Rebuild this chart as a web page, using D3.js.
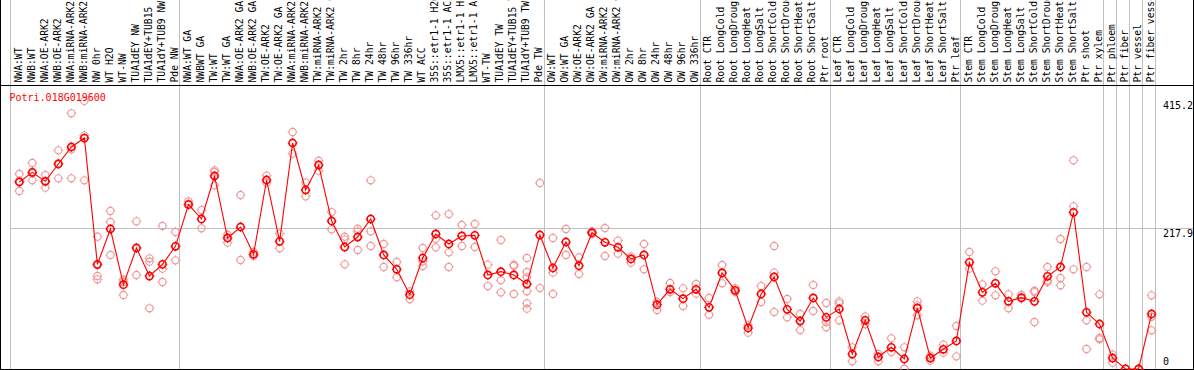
<!DOCTYPE html>
<html>
<head>
<meta charset="utf-8">
<script src="https://cdn.jsdelivr.net/npm/d3@7"></script>
<style>
  body { margin: 0; background: #fff; }
  svg { display: block; }
  text { font-family: "DejaVu Sans Mono", monospace; }
</style>
</head>
<body>
<div id="chart"></div>
<script>
// Gene shown
const title = "Potri.018G019600";

// Sample names (one column each)
const samples = [
  "NWA:WT", "NWB:WT", "NWA:OE-ARK2", "NWB:OE-ARK2", "NWA:miRNA-ARK2", "NWB:miRNA-ARK2",
  "NW 0hr", "WT H2O", "WT-NW", "TUA1dEY NW", "TUA1dEY+TUB15 NW", "TUA1dY+TUB9 NW", "Pde NW",
  "NWA:WT GA", "NWBWT GA", "TW:WT", "TW:WT GA", "NWA:OE-ARK2 GA", "NWB:OE-ARK2 GA",
  "TW:OE-ARK2", "TW:OE-ARK2 GA", "NWA:miRNA-ARK2 GA", "NWB:miRNA-ARK2 GA", "TW:miRNA-ARK2",
  "TW:miRNA-ARK2 GA", "TW 2hr", "TW 8hr", "TW 24hr", "TW 48hr", "TW 96hr", "TW 336hr",
  "WT ACC", "35S::etr1-1 H2O", "35S::etr1-1 ACC", "LMX5::etr1-1 H2O", "LMX5::etr1-1 ACC",
  "WT-TW", "TUA1dEY TW", "TUA1dEY+TUB15 TW", "TUA1dY+TUB9 TW", "Pde TW",
  "OW:WT", "OW:WT GA", "OW:OE-ARK2", "OW:OE-ARK2 GA", "OW:miRNA-ARK2", "OW:miRNA-ARK2 GA",
  "OW 2hr", "OW 8hr", "OW 24hr", "OW 48hr", "OW 96hr", "OW 336hr",
  "Root CTR", "Root LongCold", "Root LongDrought", "Root LongHeat", "Root LongSalt",
  "Root ShortCold", "Root ShortDrought", "Root ShortHeat", "Root ShortSalt", "Ptr root",
  "Leaf CTR", "Leaf LongCold", "Leaf LongDrought", "Leaf LongHeat", "Leaf LongSalt",
  "Leaf ShortCold", "Leaf ShortDrought", "Leaf ShortHeat", "Leaf ShortSalt", "Ptr leaf",
  "Stem CTR", "Stem LongCold", "Stem LongDrought", "Stem LongHeat", "Stem LongSalt",
  "Stem ShortCold", "Stem ShortDrought", "Stem ShortHeat", "Stem ShortSalt", "Ptr shoot", "Ptr xylem",
  "Ptr phloem", "Ptr fiber", "Ptr vessel", "Ptr fiber vessel"
];

// Number of samples in each experiment block (separated by grid lines)
const groupSizes = [13, 28, 12, 10, 10, 11, 1, 1, 1, 1];

// Mean expression per sample
const means = [
  289.6, 304.6, 290.6, 317.5, 343.8, 357.7, 162.1, 216.8, 130.6, 187.4, 144.0, 162.1, 190.0,
  254.5, 232.3, 298.9, 202.9, 219.9, 177.6, 292.7, 197.7, 350.0, 277.2, 315.9, 229.2, 188.9,
  204.4, 232.3, 176.6, 154.4, 115.1, 171.9, 209.1, 193.6, 206.0, 207.0, 145.6, 150.7, 145.6,
  131.6, 207.5,
  156.4, 196.7, 160.0, 211.1, 196.2, 188.4, 170.4, 176.6, 99.6, 123.4, 108.9, 123.4,
  95.5, 148.7, 121.8, 63.5, 116.2, 142.5, 92.4, 74.3, 110.0, 80.0,
  92.9, 23.2, 75.4, 18.6, 33.6, 15.5, 94.5, 17.0, 30.5, 43.4,
  165.2, 118.7, 132.7, 104.8, 110.5, 104.8, 143.5, 158.0, 242.6, 87.8, 69.7,
  17.0, 0.2, 0.1, 85.2
];

// Individual replicate values per sample
const replicates = [
  [302.0, 291.2, 275.7], [319.0, 303.0, 292.2], [300.4, 290.6, 280.8], [338.6, 318.5, 295.3],
  [396.0, 340.2, 295.3], [415.2, 361.9, 292.2], [204.9, 160.5, 144.0, 138.9], [244.7, 227.7, 176.6],
  [138.3, 134.7, 114.6], [228.7, 187.9, 145.6], [171.4, 166.2, 94.0], [221.5, 155.4, 134.7],
  [212.2, 190.0, 168.3],
  [259.7, 256.0], [246.2, 217.9], [307.7, 305.1, 284.4], [208.0, 195.7], [269.5, 168.8],
  [181.2, 175.0], [299.4, 288.6], [209.6, 186.9], [367.0, 333.5], [288.6, 267.4],
  [322.6, 307.2], [243.1, 216.3], [204.9, 200.8, 162.1], [217.3, 213.2, 184.3],
  [292.2, 213.2, 190.5], [193.6, 158.0], [165.7, 142.0], [120.3, 107.9],
  [187.4, 166.7, 159.5], [238.0, 201.8, 188.4], [240.0, 180.7, 158.0], [223.0, 190.5],
  [224.6, 188.9], [161.6, 128.5], [199.8, 137.3, 118.7], [161.6, 159.5, 116.2],
  [171.9, 150.2, 142.0, 120.3, 101.7, 93.4], [288.1, 125.4],
  [202.9, 149.2, 116.2], [216.8, 176.6], [172.9, 147.1], [213.2, 209.1], [218.4, 175.0],
  [198.8, 178.6], [174.0, 164.7], [193.6, 154.4], [103.8, 91.4], [133.2, 119.2],
  [124.9, 97.6], [131.6, 116.7],
  [110.0, 84.1], [161.1, 132.7], [125.4, 119.2], [67.6, 56.3], [128.5, 103.8],
  [190.5, 149.2, 88.3], [108.4, 80.0], [85.2, 60.4], [130.1, 89.8], [102.2, 72.8, 64.5],
  [104.8, 101.7, 75.4], [33.6, 11.9], [81.6, 69.2], [23.2, 11.9], [47.5, 26.3], [33.6, 0.5],
  [104.8, 98.6, 83.1], [20.6, 12.9], [37.7, 25.3], [66.6, 19.6],
  [181.2, 155.4], [131.1, 105.8], [151.3, 114.1], [115.6, 94.0], [114.6, 108.9],
  [121.3, 119.2, 72.8], [158.0, 137.3, 134.7], [201.3, 140.9, 129.6], [323.2, 251.9, 154.4],
  [158.0, 75.4, 31.0], [115.6, 48.0, 45.9],
  [22.2, 9.8], [0.3, 0.1], [0.2, 0.1], [114.1, 81.0, 59.9]
];

// Right-hand axis labels and the single horizontal grid value
const yTicks = [415.2, 217.9, 0];
const yGrid = [217.9];

// Layout
const W = 1194, H = 370;
const headerY = 85.5;      // line under the rotated sample names
const plotLeft = 10, plotRight = 1155.3;
const plotTop = 100.9, plotBottom = 369;

const svg = d3.select("#chart")
  .append("svg")
  .attr("width", W)
  .attr("height", H);

// Scales
const x = d3.scaleBand()
  .domain(d3.range(samples.length))
  .range([plotLeft, plotRight])
  .padding(0);
const px = i => x(i) + x.bandwidth() * 0.715;

const y = d3.scaleLinear()
  .domain([0, 415.2])
  .range([plotBottom, plotTop]);

// Vertical grid lines at group boundaries
const bounds = [0];
groupSizes.forEach(n => bounds.push(bounds[bounds.length - 1] + n));
svg.append("g")
  .selectAll("line")
  .data(bounds)
  .enter()
  .append("line")
  .attr("x1", b => Math.round(b < samples.length ? x(b) : plotRight) + 0.5)
  .attr("x2", b => Math.round(b < samples.length ? x(b) : plotRight) + 0.5)
  .attr("y1", 0)
  .attr("y2", H)
  .attr("stroke", "#c0c0c0")
  .attr("stroke-width", 1);

// Horizontal grid line
svg.append("g")
  .selectAll("line")
  .data(yGrid)
  .enter()
  .append("line")
  .attr("x1", plotLeft)
  .attr("x2", W)
  .attr("y1", d => Math.round(y(d)) + 0.5)
  .attr("y2", d => Math.round(y(d)) + 0.5)
  .attr("stroke", "#c0c0c0");

// Frame lines
const frame = svg.append("g").attr("stroke", "#000").attr("stroke-width", 1);
frame.append("line").attr("x1", 0.5).attr("x2", 0.5).attr("y1", 0).attr("y2", H);
frame.append("line").attr("x1", W - 0.5).attr("x2", W - 0.5).attr("y1", 0).attr("y2", H);
frame.append("line").attr("x1", 0).attr("x2", W).attr("y1", headerY).attr("y2", headerY);
frame.append("line").attr("x1", 0).attr("x2", W).attr("y1", H - 0.5).attr("y2", H - 0.5);

// Rotated sample names (long ones run past the top edge, as in the original)
svg.append("g")
  .selectAll("text")
  .data(samples)
  .enter()
  .append("text")
  .attr("transform", (d, i) => `translate(${px(i) + 2.2},82.5) rotate(-90)`)
  .attr("font-size", "9.7px")
  .attr("fill", "#000")
  .text(d => d);

// Right axis labels
svg.append("g")
  .selectAll("text")
  .data(yTicks)
  .enter()
  .append("text")
  .attr("x", 1163)
  .attr("y", d => d === 0 ? y(d) - 4 : y(d) + 8.5)
  .attr("font-size", "10px")
  .attr("fill", "#000")
  .text(d => d);

// Marker helper: ring with four small ticks
function marker(g, cx, cy, color, sw) {
  const r = 3.6;
  g.append("circle")
    .attr("cx", cx).attr("cy", cy).attr("r", r)
    .attr("fill", "none").attr("stroke", color).attr("stroke-width", sw);
  [[0, -1], [0, 1], [-1, 0], [1, 0]].forEach(([dx, dy]) => {
    g.append("line")
      .attr("x1", cx + dx * r).attr("y1", cy + dy * r)
      .attr("x2", cx + dx * (r + 1.3)).attr("y2", cy + dy * (r + 1.3))
      .attr("stroke", color).attr("stroke-width", 1);
  });
}

// Replicate points
const repG = svg.append("g");
replicates.forEach((reps, i) => {
  reps.forEach(v => marker(repG, px(i), y(v), "#f09696", 1.1));
});

// Mean line
const line = d3.line()
  .x((d, i) => px(i))
  .y(d => y(d));
svg.append("path")
  .datum(means)
  .attr("d", line)
  .attr("fill", "none")
  .attr("stroke", "#ff0000")
  .attr("stroke-width", 1.1);

// Mean points
const meanG = svg.append("g");
means.forEach((v, i) => marker(meanG, px(i), y(v), "#ff0000", 1.6));

// Gene title
svg.append("text")
  .attr("x", 9.5)
  .attr("y", 100.5)
  .attr("font-size", "10px")
  .attr("fill", "#ff0000")
  .text(title);
</script>
</body>
</html>
